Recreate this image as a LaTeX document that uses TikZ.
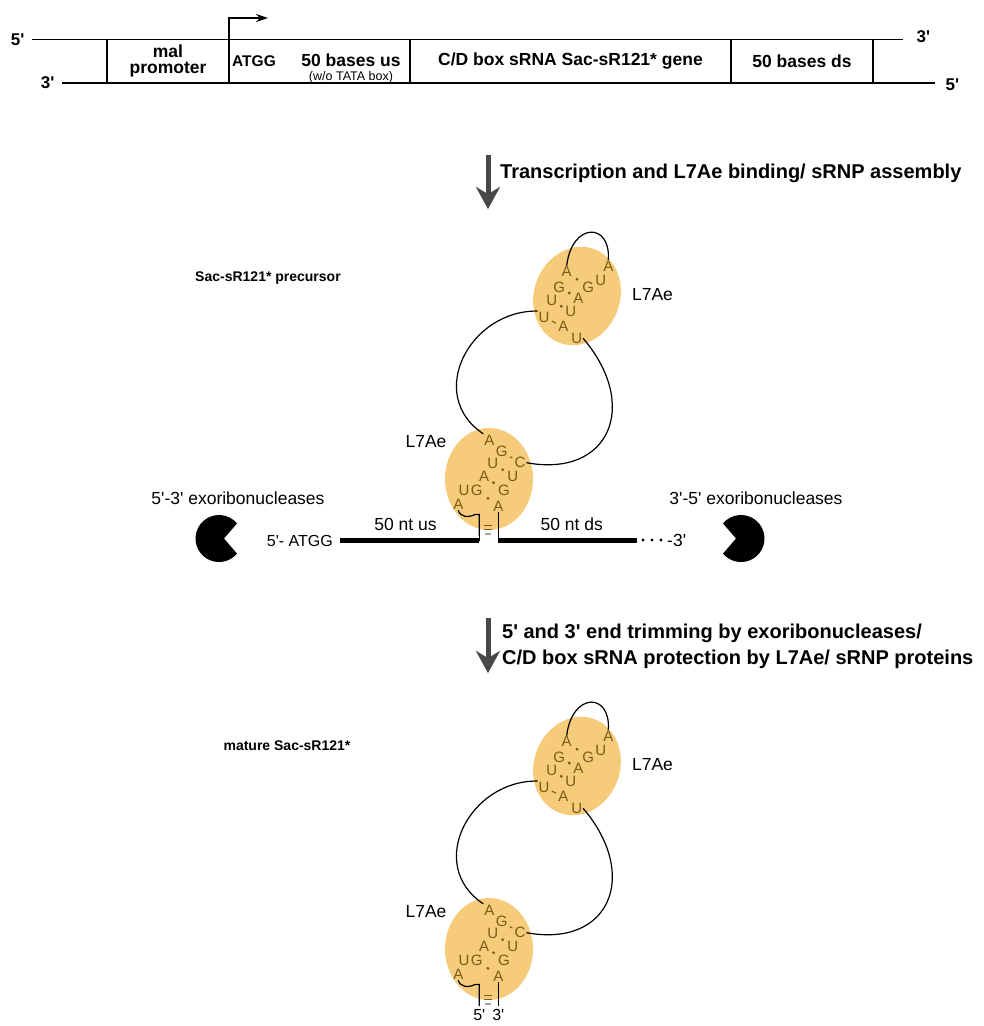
\documentclass[tikz,border=0pt]{standalone}
\usepackage{fontspec}
\setmainfont{Liberation Sans}[Ligatures=TeXOff]
\usetikzlibrary{arrows.meta,positioning,shapes.geometric}

\definecolor{l7fill}{RGB}{246,203,122}
\definecolor{ntgold}{RGB}{122,92,24}
\definecolor{stepgrey}{RGB}{72,72,72}

\tikzset{
  strand/.style={line width=1.2pt},
  cell/.style={draw, line width=1.2pt, minimum height=43.5pt, inner sep=0pt, outer sep=0pt, align=center, font=\fontsize{17.5}{16}\selectfont\bfseries},
  endlbl/.style={font=\fontsize{17}{17}\selectfont\bfseries, inner sep=1pt},
  tss/.style={line width=1.2pt, -{Stealth[length=12pt, width=8pt]}},
  steparrow/.style={line width=5pt, draw=stepgrey, -{Stealth[length=22pt, width=24pt, inset=7pt]}},
  steptext/.style={anchor=west, inner sep=0pt, align=left, font=\fontsize{20}{26}\selectfont\bfseries},
  l7ae/.style={ellipse, fill=l7fill, inner sep=0pt},
  nt/.style={text=ntgold, inner sep=0.8pt, font=\fontsize{15}{15}\selectfont},
  bp/.style={circle, fill=ntgold, inner sep=0pt, minimum size=3.2pt},
  pairline/.style={draw=ntgold, line width=1.1pt, shorten <=1.5pt, shorten >=1.5pt},
  rna/.style={line width=1.2pt},
  bar/.style={line width=5pt},
  lbl/.style={inner sep=1pt, font=\fontsize{17.5}{18}\selectfont},
  strtitle/.style={inner sep=1pt, font=\fontsize{14}{14}\selectfont\bfseries},
  % the two kink-turns with their L7Ae proteins and the loop between them
  pics/krna/.style={code={
    \node[l7ae, minimum width=86pt, minimum height=100pt, rotate=-20] (-ptop) at (577,-296) {};
    \node[l7ae, minimum width=88pt, minimum height=102pt] (-pbot) at (489,-479) {};
    \node[lbl] (-ltop) at (652.5,-295) {L7Ae};
    \node[lbl] (-lbot) at (426,-441.7) {L7Ae};
    \foreach \nb/\x/\y [count=\i] in {A/566.7/271.7, G/559.3/287.3, U/551.7/300.7, U/544/317.3,
        A/608.3/266, U/600.7/280, G/588.3/287.3, A/578.3/298.3, U/570.7/311.7, A/563.3/326.7, U/576.7/338.3}
      \node[nt] (-u\i) at (\x,-\y) {\nb};
    \foreach \nb/\x/\y [count=\i] in {A/489.3/440, G/501.7/451.7, C/520/462.7, U/492.7/463.3,
        U/512.7/476, A/484/476, G/504/490, U/464/490, G/476.7/490, A/498.3/506, A/458.3/504}
      \node[nt] (-d\i) at (\x,-\y) {\nb};
    % non-canonical pairs
    \foreach \p/\q in {u1/u7, u2/u8, u3/u9, d4/d5, d6/d7, d9/d10}
      \path (-\p) -- node[bp, midway] (-bp\p) {} (-\q);
    \draw[pairline] (-u4) -- (-u10);
    \draw[pairline] (-d2) -- (-d3);
    % loops
    \draw[rna] (-u1.north) .. controls (572,-222) and (611,-222) .. (-u5.north);
    \draw[rna] (-u4.north west) .. controls (470,-310) and (425,-395) .. (-d1.north west);
    \draw[rna] (-d3.east) .. controls (610,-478) and (640,-405) .. (-u11.east);
    % 5' and 3' ends
    \draw[rna] (-d11.south) .. controls (460,-517) and (468,-518) .. (475,-514.5) -- (479.3,-514.5) -- (479.3,-536) coordinate (-e5);
    \draw[rna] (-d10.south) -- (498.3,-536) coordinate (-e3);
    \draw[ntgold, line width=1.1pt] (484,-525.5) -- (491.5,-525.5) (484,-529.5) -- (491.5,-529.5);
    \draw[gray!70, line width=1.1pt] (485,-534) -- (491,-534);
  }}
}

\begin{document}
\begin{tikzpicture}[x=1pt, y=1pt]
\useasboundingbox (0,0) rectangle (984,-1026);

% gene construct
\node[cell, minimum width=122pt] (prom) at (168,-61.25) {mal\\promoter};
\node[cell, minimum width=181pt, right=0pt of prom] (usbox) {};
\node[cell, minimum width=321pt, right=0pt of usbox] (gene) {C/D box sRNA Sac-sR121* gene};
\node[cell, minimum width=142pt, right=0pt of gene] (dsbox) {50 bases ds};
\node[anchor=west, inner sep=0pt, font=\fontsize{15.5}{16}\selectfont\bfseries] (atgg) at ([xshift=3pt]usbox.west) {ATGG};
\node[inner sep=0pt, font=\fontsize{17.5}{16}\selectfont\bfseries] (bus) at (351,-60) {50 bases us};
\node[inner sep=0pt, font=\fontsize{12.5}{13}\selectfont] (tata) at (351,-77) {(w/o TATA box)};
\draw[strand] (32,-39.5) node[endlbl, left=6pt] (top5) {5'} -- (903,-39.5) node[endlbl, right=12pt, yshift=2.5pt] (top3) {3'};
\draw[strand] (62,-83) node[endlbl, left=6pt] (bot3) {3'} -- (935,-83) node[endlbl, right=9pt, yshift=-2pt] (bot5) {5'};
\draw[tss] (usbox.north west) -- ++(0,21.5) -- ++(39,0);

% step 1
\coordinate (tr1) at (488,-155);
\coordinate (tr2) at (488,-209);
\draw[steparrow] (tr1) -- (tr2);
\node[steptext] (trtxt) at (500,-173) {Transcription and L7Ae binding/ sRNP assembly};

% precursor
\node[strtitle] (pretitle) at (268,-278) {Sac-sR121* precursor};
\pic (pre) at (0,0) {krna};
\coordinate (us5) at (340,-540.5);
\coordinate (ds3) at (637,-540.5);
\draw[rna] (pre-e5) -- (pre-e5 |- us5);
\draw[rna] (pre-e3) -- (pre-e3 |- ds3);
\draw[bar] (us5) -- (pre-e5 |- us5) node[lbl, pos=0.47, above=6pt] (uslbl) {50 nt us};
\draw[bar] (pre-e3 |- ds3) -- (ds3) node[lbl, pos=0.53, above=6pt] (dslbl) {50 nt ds};
\node[lbl, anchor=east, font=\fontsize{16}{16}\selectfont] (end5) at ([xshift=-6pt]us5) {5'- ATGG};
\foreach \x in {643,652,661} \fill (\x,-540) circle (1.7);
\node[lbl, anchor=west] (end3) at (666,-540) {-3'};

% exoribonucleases
\coordinate (exo5) at (219,-538.5);
\fill (exo5) ++(40:23.5) arc[start angle=40, end angle=320, radius=23.5] -- ([xshift=5pt]exo5) -- cycle;
\node[lbl] (exo5lbl) at (238,-498) {5'-3' exoribonucleases};
\coordinate (exo3) at (741,-538.5);
\fill (exo3) ++(140:23.5) arc[start angle=140, end angle=-140, radius=23.5] -- ([xshift=-5pt]exo3) -- cycle;
\node[lbl] (exo3lbl) at (756,-498) {3'-5' exoribonucleases};

% step 2
\coordinate (tr3) at (488,-618);
\coordinate (tr4) at (488,-673);
\draw[steparrow] (tr3) -- (tr4);
\node[steptext] (trimtxt) at (502,-646) {5' and 3' end trimming by exoribonucleases/\\C/D box sRNA protection by L7Ae/ sRNP proteins};

% mature sRNA
\node[strtitle] (mattitle) at (287,-746) {mature Sac-sR121*};
\pic (mat) at (0,-470) {krna};
\node[lbl, font=\fontsize{16}{16}\selectfont, below=2pt of mat-e5] (mat5) {5'};
\node[lbl, font=\fontsize{16}{16}\selectfont, below=2pt of mat-e3] (mat3) {3'};
\end{tikzpicture}
\end{document}
